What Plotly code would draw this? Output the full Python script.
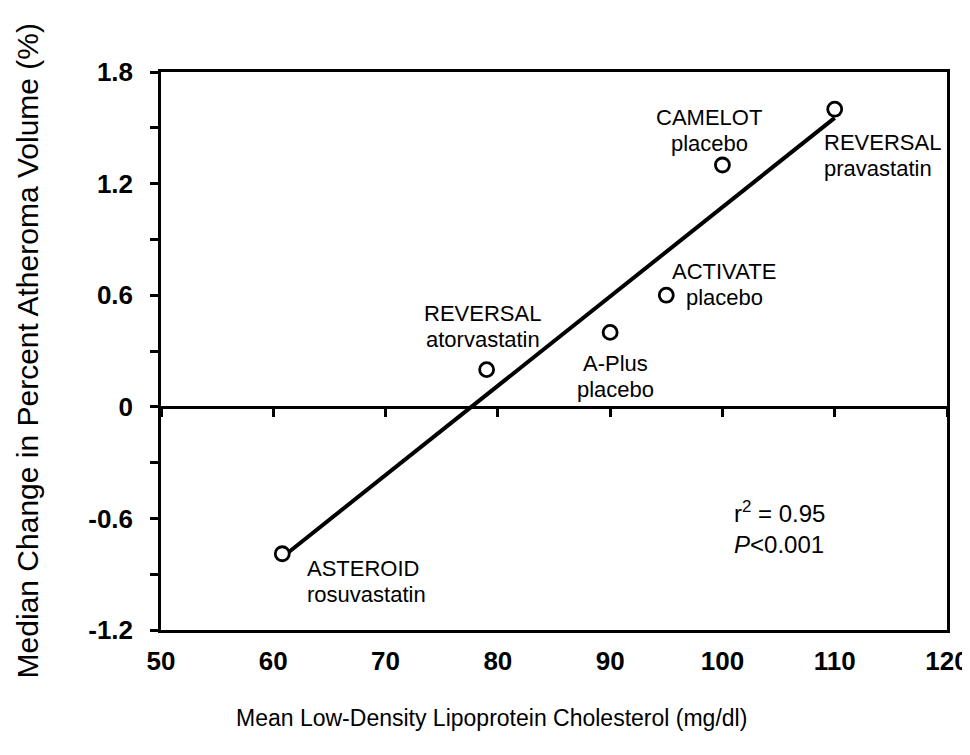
import numpy as np
import plotly.graph_objects as go

# Data
study_names = ["ASTEROID", "REVERSAL", "A-Plus", "ACTIVATE", "CAMELOT", "REVERSAL"]
study_arms = ["rosuvastatin", "atorvastatin", "placebo", "placebo", "placebo", "pravastatin"]
ldl = [60.8, 79, 90, 95, 100, 110]
pav = [-0.79, 0.2, 0.4, 0.6, 1.3, 1.6]

x_ticks = [50, 60, 70, 80, 90, 100, 110, 120]
y_ticks = [-1.2, -0.9, -0.6, -0.3, 0, 0.3, 0.6, 0.9, 1.2, 1.5, 1.8]
y_ticktext = ["-1.2", "", "-0.6", "", "0", "", "0.6", "", "1.2", "", "1.8"]

slope, intercept = np.polyfit(ldl, pav, 1)
fit_x = [min(ldl), max(ldl)]
fit_y = [slope * v + intercept for v in fit_x]

FONT = "Arial, Liberation Sans, sans-serif"

fig = go.Figure()
fig.add_trace(go.Scatter(x=fit_x, y=fit_y, mode="lines",
                         line=dict(color="black", width=4), showlegend=False,
                         hoverinfo="skip"))
fig.add_trace(go.Scatter(x=ldl, y=pav, mode="markers",
                         marker=dict(size=14, color="white", symbol="circle",
                                     line=dict(color="black", width=2.8)),
                         showlegend=False))
# invisible trace for tick axis on the zero line
fig.add_trace(go.Scatter(x=[50, 120], y=[0, 0], xaxis="x2", mode="markers",
                         marker=dict(opacity=0), showlegend=False, hoverinfo="skip"))

# Label placement: (xanchor, xshift, yshift of block centre)
placement = [
    ("left", 23, -28),
    ("center", -4, 43),
    ("center", 5, -44),
    ("center", 58, 11),
    ("center", -13, 35),
    ("left", -13, -46),
]
for name, arm, x, y, (xa, xs, ys) in zip(study_names, study_arms, ldl, pav, placement):
    for txt, dy in ((name, 13), (arm, -13)):
        fig.add_annotation(x=x, y=y, text=txt, showarrow=False, xanchor=xa,
                           yanchor="middle", xshift=xs, yshift=ys + dy,
                           font=dict(family=FONT, size=22, color="black"))

fig.add_annotation(x=0.726, y=0.183, xref="paper", yref="paper", xanchor="left",
                   yanchor="middle", showarrow=False, align="left",
                   text="r<sup>2</sup> = 0.95<br><i>P</i><0.001",
                   font=dict(family=FONT, size=24, color="black"))

# Axis titles
fig.add_annotation(x=0.421, y=-0.158, xref="paper", yref="paper", xanchor="center",
                   yanchor="middle", showarrow=False,
                   text="Mean Low-Density Lipoprotein Cholesterol (mg/dl)",
                   font=dict(family=FONT, size=23, color="black"))
fig.add_annotation(x=-0.170, y=0.5, xref="paper", yref="paper", xanchor="center",
                   yanchor="middle", showarrow=False, textangle=-90,
                   text="Median Change in Percent Atheroma Volume (%)",
                   font=dict(family=FONT, size=30, color="black"))

# page body has an 8px margin, so the figure is sized to fill the rest of the window
fig.update_layout(
    width=962, height=747,
    margin=dict(l=153, r=23, t=64, b=125, autoexpand=False),
    paper_bgcolor="white", plot_bgcolor="white",
    font=dict(family=FONT, color="black"),
    xaxis=dict(range=[50, 120], tickvals=x_ticks, showgrid=False, zeroline=False,
               showline=True, linecolor="black", linewidth=2.5, mirror=True,
               ticks="", ticklabelstandoff=6,
               tickfont=dict(family=FONT, size=26, color="black", weight="bold")),
    xaxis2=dict(range=[50, 120], tickvals=x_ticks, overlaying="x", anchor="free",
                position=0.4, side="bottom", showgrid=False, zeroline=False,
                showline=True, linecolor="black", linewidth=2.5, ticks="outside",
                ticklen=8, tickwidth=2.5, tickcolor="black", showticklabels=False),
    yaxis=dict(range=[-1.2, 1.8], tickvals=y_ticks, ticktext=y_ticktext,
               showgrid=False, zeroline=False, showline=True, linecolor="black",
               linewidth=2.5, mirror=True, ticks="outside", ticklen=8, tickwidth=2.5,
               tickcolor="black", ticklabelstandoff=12,
               tickfont=dict(family=FONT, size=26, color="black", weight="bold")),
)

fig.write_html("out.html")
